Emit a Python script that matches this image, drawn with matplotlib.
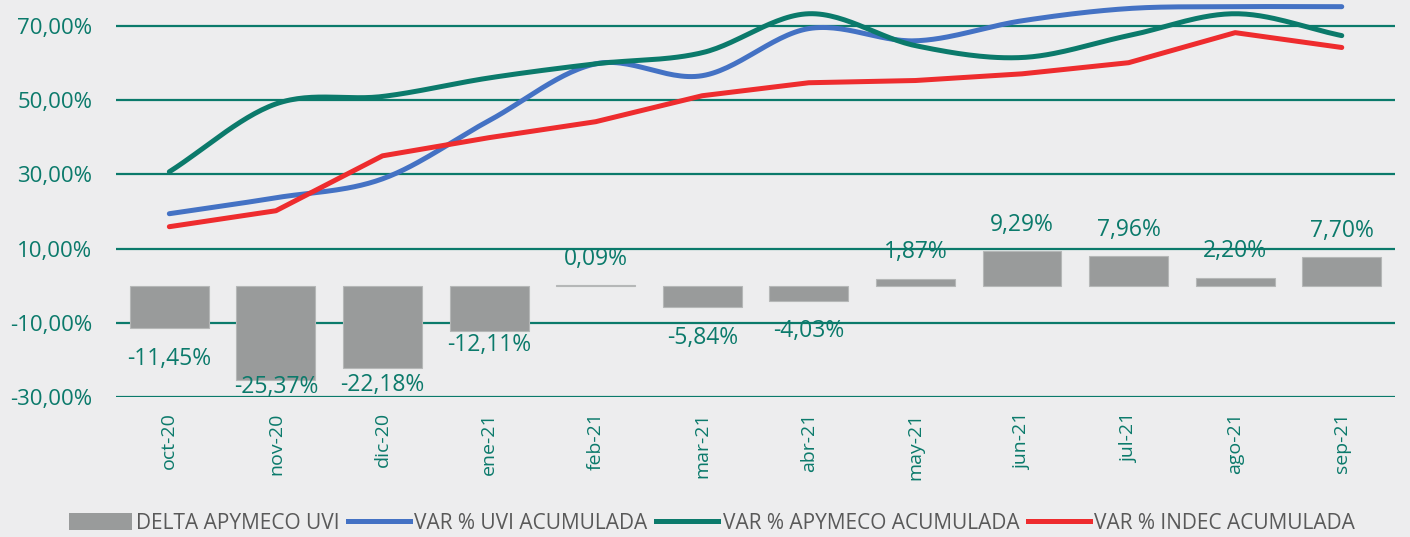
import numpy as np
import matplotlib
matplotlib.use("Agg")
import matplotlib.pyplot as plt
from matplotlib.patches import Patch
from matplotlib.lines import Line2D

plt.rcParams['font.family'] = ['Open Sans', 'DejaVu Sans']

months = ['oct-20', 'nov-20', 'dic-20', 'ene-21', 'feb-21', 'mar-21',
          'abr-21', 'may-21', 'jun-21', 'jul-21', 'ago-21', 'sep-21']
delta_apymeco_uvi = [-11.45, -25.37, -22.18, -12.11, 0.09, -5.84,
                     -4.03, 1.87, 9.29, 7.96, 2.20, 7.70]
var_uvi = [19.4, 23.7, 28.8, 44.5, 59.8, 56.6, 69.3, 66.0, 71.4, 74.7, 75.2, 75.2]
var_apymeco = [30.7, 49.0, 51.0, 56.0, 59.8, 62.8, 73.3, 64.7, 61.5, 67.4, 73.3, 67.4]
var_indec = [15.9, 20.2, 35.0, 39.9, 44.2, 51.2, 54.7, 55.3, 57.1, 60.1, 68.2, 64.2]
yticks = [-30, -10, 10, 30, 50, 70]

TEAL = '#0B7A6B'
BLUE = '#4472C4'
RED = '#EE2C2E'
GRAY = '#999B9B'
BG = '#EDEDEE'


def smooth(x, y, n=30):
    """Catmull-Rom style smoothing (like Excel's smoothed line)."""
    x = np.asarray(x, float)
    y = np.asarray(y, float)
    px = np.concatenate([[2 * x[0] - x[1]], x, [2 * x[-1] - x[-2]]])
    py = np.concatenate([[2 * y[0] - y[1]], y, [2 * y[-1] - y[-2]]])
    xs, ys = [], []
    t = np.linspace(0, 1, n, endpoint=False)
    for i in range(1, len(px) - 2):
        p0, p1, p2, p3 = py[i - 1], py[i], py[i + 1], py[i + 2]
        q0, q1, q2, q3 = px[i - 1], px[i], px[i + 1], px[i + 2]
        for arr, a0, a1, a2, a3 in ((ys, p0, p1, p2, p3), (xs, q0, q1, q2, q3)):
            arr.extend(0.5 * ((2 * a1) + (-a0 + a2) * t +
                              (2 * a0 - 5 * a1 + 4 * a2 - a3) * t ** 2 +
                              (-a0 + 3 * a1 - 3 * a2 + a3) * t ** 3))
    xs.append(x[-1])
    ys.append(y[-1])
    return np.array(xs), np.array(ys)


fig = plt.figure(figsize=(14.10, 5.37), dpi=100, facecolor=BG)
ax = fig.add_axes([0.0823, 0.2607, 0.9071, 0.7393])
ax.set_facecolor(BG)

x = np.arange(len(months))
ax.bar(x, delta_apymeco_uvi, width=0.74, color=GRAY, edgecolor='#B5B7B7',
       linewidth=0.8, zorder=3)

xu, yu = smooth(x, var_uvi)
ax.plot(xu, yu, color=BLUE, lw=3.6, solid_capstyle='round', zorder=4)
xa, ya = smooth(x, var_apymeco)
ax.plot(xa, ya, color=TEAL, lw=3.6, solid_capstyle='round', zorder=5)
ax.plot(x, var_indec, color=RED, lw=3.6, solid_capstyle='round',
        solid_joinstyle='round', zorder=4)

# bar labels (offsets in points)
label_offsets = [-22, -5, -12, -10, 19, -22, -22, 19, 19, 19, 19, 19]
for xi, v, off in zip(x, delta_apymeco_uvi, label_offsets):
    txt = f"{v:.2f}%".replace('.', ',')
    ax.annotate(txt, (xi, v), xytext=(0, off), textcoords='offset points',
                ha='center', va='center', color=TEAL, fontsize=16.5, zorder=6)

ax.set_ylim(-30, 77)
ax.set_xlim(-0.5, len(months) - 0.5)
ax.set_yticks(yticks)
ax.set_yticklabels([f"{t:.2f}%".replace('.', ',') for t in yticks])
ax.set_xticks(x)
ax.set_xticklabels(months, rotation=90)
ax.tick_params(axis='both', length=0, colors=TEAL)
ax.tick_params(axis='y', labelsize=16, pad=17)
ax.tick_params(axis='x', labelsize=14, pad=11)
for s in ax.spines.values():
    s.set_visible(False)
ax.yaxis.grid(True, color=TEAL, lw=1.6, zorder=1)
ax.set_axisbelow(True)

handles = [Patch(facecolor=GRAY, edgecolor='none'),
           Line2D([], [], color=BLUE, lw=3.6),
           Line2D([], [], color=TEAL, lw=3.6),
           Line2D([], [], color=RED, lw=3.6)]
labels = ['DELTA APYMECO UVI', 'VAR % UVI ACUMULADA',
          'VAR % APYMECO ACUMULADA', 'VAR % INDEC ACUMULADA']
fig.legend(handles, labels, loc='center', bbox_to_anchor=(0.505, 0.026),
           ncol=4, frameon=False, handlelength=3.0,
           handleheight=0.9, handletextpad=0.2, columnspacing=0.4,
           labelcolor='#595959', prop={'size': 15})

fig.savefig('out.png', dpi=100, facecolor=BG)
